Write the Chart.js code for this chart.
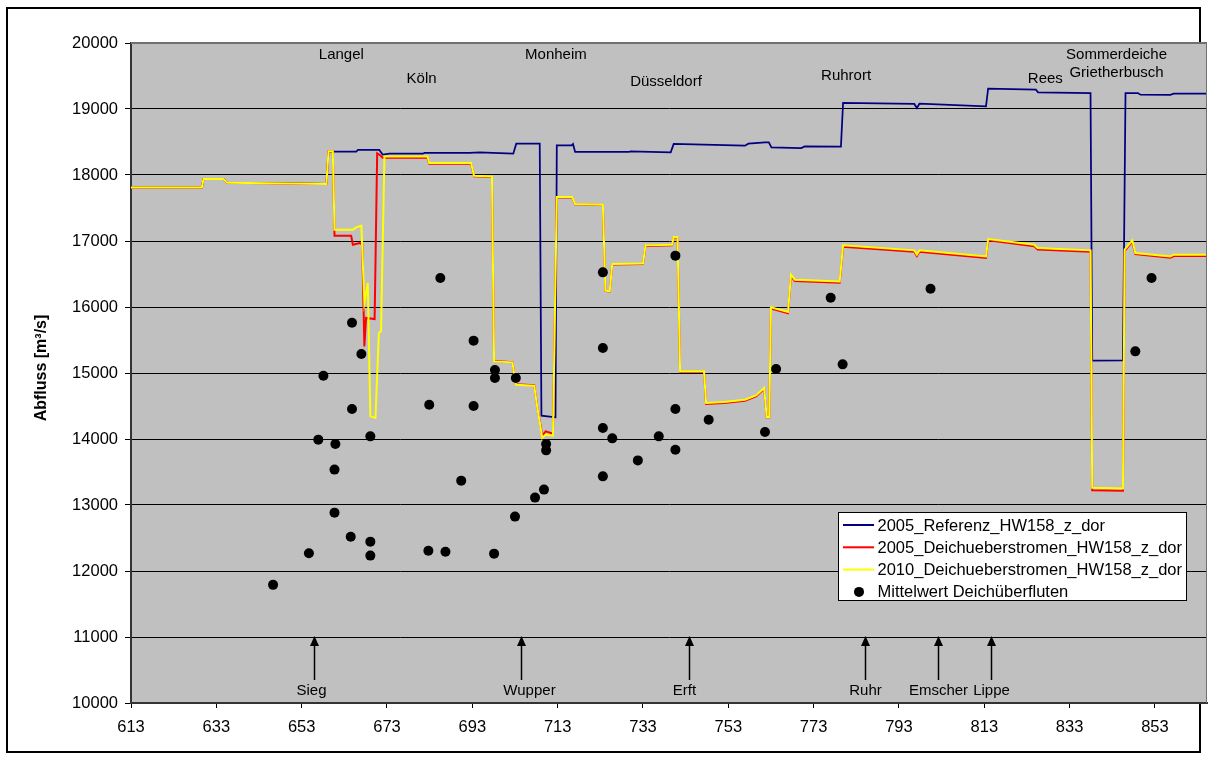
<!DOCTYPE html>
<html>
<head>
<meta charset="utf-8">
<script src="https://cdn.jsdelivr.net/npm/chart.js@4"></script>
<style>
  html, body { margin: 0; padding: 0; background: #ffffff; }
  canvas { display: block; }
</style>
</head>
<body>
<canvas id="chart" width="1212" height="760"></canvas>
<script>
// Rhine kilometre vs. discharge [m³/s]
const xTickValues = [613, 633, 653, 673, 693, 713, 733, 753, 773, 793, 813, 833, 853];

// 2005 reference run
const referenz = [[613,17810],[629.6,17810],[630,17940],[634.6,17940],[635.6,17883],[658.8,17864],[659.3,18353],[665.8,18353],[666.2,18379],[671.2,18379],[672.0,18308],[673.6,18323],[681.4,18323],[681.8,18334],[692.3,18334],[694.7,18343],[702.6,18323],[703.3,18474],[708.8,18474],[709.2,14354],[712.5,14328],[712.8,18449],[716.3,18449],[716.6,18470],[717.1,18349],[729.7,18349],[730.1,18358],[739.5,18343],[740.2,18470],[756.9,18444],[757.7,18474],[761.6,18494],[762.5,18494],[763.1,18418],[770.1,18409],[770.9,18434],[779.4,18429],[779.9,19091],[796.6,19076],[797.2,19015],[797.8,19080],[813.4,19040],[813.9,19308],[825.1,19292],[825.6,19252],[837.9,19242],[838.3,15187],[845.5,15190],[846.1,19242],[849.0,19242],[849.6,19217],[856.6,19215],[857.4,19232],[865.2,19232]];

// 2005 dike overtopping run
const ueberstromen2005 = [[613,17810],[629.6,17810],[630,17940],[634.6,17940],[635.6,17883],[658.8,17864],[659.3,18358],[660.3,18358],[660.7,17080],[664.6,17080],[665.0,16944],[666.6,16970],[667.2,16950],[667.7,15403],[668.1,15834],[670.1,15818],[670.7,18330],[671.4,18300],[672.0,18262],[682.5,18262],[682.9,18170],[692.7,18170],[693.4,17980],[697.6,17970],[698.1,15180],[702.4,15165],[703.2,14830],[707.5,14815],[708.2,14500],[709.4,14050],[710.2,14116],[711.9,14080],[712.8,17660],[716.4,17660],[717.1,17555],[723.6,17545],[724.2,16245],[725.2,16235],[725.8,16645],[733.0,16650],[733.6,16925],[739.8,16935],[740.2,17045],[741.1,17045],[741.7,15020],[747.3,15020],[747.8,14530],[752.0,14545],[756.9,14580],[759.5,14645],[761.4,14760],[762.0,14330],[762.6,14330],[763.0,15975],[767.0,15905],[767.7,16470],[768.6,16395],[779.1,16368],[779.9,16912],[796.6,16836],[797.2,16772],[797.8,16836],[813.4,16745],[813.9,17010],[824.7,16922],[825.5,16872],[837.9,16836],[838.3,13225],[845.5,13215],[845.9,16850],[847.7,16990],[848.4,16800],[856.6,16745],[857.4,16772],[865.2,16772]];

// 2010 dike overtopping run
const ueberstromen2010 = [[613,17810],[629.6,17810],[630,17940],[634.6,17940],[635.6,17883],[658.8,17864],[659.3,18358],[660.3,18358],[660.7,17172],[665.0,17172],[665.8,17206],[667.0,17232],[667.7,16061],[668.5,16364],[669.1,14343],[670.3,14318],[671.1,15606],[671.6,15631],[672.4,18282],[682.5,18282],[682.9,18182],[692.7,18182],[693.4,17990],[697.6,17979],[698.1,15176],[702.4,15161],[703.2,14823],[707.5,14808],[708.2,14495],[709.4,14016],[710.2,14066],[711.9,14050],[712.8,17667],[716.4,17667],[717.1,17561],[723.6,17550],[724.2,16247],[725.2,16237],[725.8,16652],[733.0,16660],[733.6,16934],[739.8,16944],[740.2,17055],[741.1,17055],[741.7,15025],[747.3,15025],[747.8,14546],[752.0,14560],[756.9,14596],[759.5,14660],[761.4,14773],[762.0,14334],[762.6,14334],[763.0,15994],[767.0,15925],[767.7,16490],[768.6,16414],[779.1,16388],[779.9,16934],[796.6,16858],[797.2,16793],[797.8,16858],[813.4,16767],[813.9,17030],[824.7,16944],[825.5,16894],[837.9,16858],[838.3,13260],[845.5,13250],[845.9,16868],[847.7,17010],[848.4,16818],[856.6,16767],[857.4,16793],[865.2,16793]];

// mean discharge at dike overflow sites
const mittelwert = [[646.3,11790],[654.7,12270],[656.9,13990],[658.1,14959],[660.7,13536],[660.7,12884],[660.9,13925],[664.5,12520],[664.8,15762],[664.8,14455],[667.0,15288],[669.1,14040],[669.1,12445],[669.1,12233],[682.7,12308],[682.9,14520],[685.5,16440],[686.7,12293],[690.4,13369],[693.3,15490],[693.3,14500],[698.1,12263],[698.3,15046],[698.3,14925],[703.0,12824],[703.2,14925],[707.7,13112],[709.8,13233],[710.3,13925],[710.3,13828],[723.6,16525],[723.6,15379],[723.6,14167],[723.6,13434],[725.8,14010],[731.8,13676],[736.7,14040],[740.6,16778],[740.6,14455],[740.6,13838],[748.4,14293],[761.6,14106],[764.2,15061],[777.0,16141],[779.8,15131],[800.4,16277],[848.4,15328],[852.2,16440]];

// towns along the river
const placeNames = ['Langel', 'Köln', 'Monheim', 'Düsseldorf', 'Ruhrort', 'Rees', 'Sommerdeiche', 'Grietherbusch'];
const placeKm    = [662.3, 681.1, 712.6, 738.4, 780.6, 827.3, 844.0, 844.0];
const placeQ     = [19823, 19455, 19823, 19418, 19505, 19455, 19823, 19550];

// tributary mouths
const riverNames = ['Sieg', 'Wupper', 'Erft', 'Ruhr', 'Emscher', 'Lippe'];
const riverKm    = [656.0, 704.4, 743.7, 785.0, 802.1, 814.5];
// horizontal nudge of each tributary caption relative to its arrow (px)
const riverLabelShift = [-3, 8, -5, 0, 0, 0];

const FONT = '"Liberation Sans", Arial, sans-serif';
Chart.defaults.font.family = FONT;
Chart.defaults.color = '#000';

const toPoints = arr => arr.map(([x, y]) => ({ x, y }));

const legendItems = [
  { text: '2005_Referenz_HW158_z_dor', color: '#000080', kind: 'line' },
  { text: '2005_Deichueberstromen_HW158_z_dor', color: '#FF0000', kind: 'line' },
  { text: '2010_Deichueberstromen_HW158_z_dor', color: '#FFFF00', kind: 'line' },
  { text: 'Mittelwert Deichüberfluten', color: '#000000', kind: 'dot' }
];

const decor = {
  id: 'decor',
  beforeDraw(chart) {
    const { ctx, chartArea: a } = chart;
    ctx.save();
    ctx.fillStyle = '#ffffff';
    ctx.fillRect(0, 0, chart.width, chart.height);
    // outer frame
    ctx.strokeStyle = '#000';
    ctx.lineWidth = 2;
    ctx.strokeRect(7, 8, 1193, 744);
    // plot area
    ctx.fillStyle = '#C0C0C0';
    ctx.fillRect(a.left, a.top, a.right - a.left, a.bottom - a.top);
    ctx.restore();
  },
  afterDraw(chart) {
    const { ctx, chartArea: a, scales } = chart;
    const xs = scales.x, ys = scales.y;
    ctx.save();

    // plot border (top and right)
    ctx.strokeStyle = '#707070';
    ctx.lineWidth = 2;
    ctx.beginPath();
    ctx.moveTo(a.left, a.top);
    ctx.lineTo(a.right, a.top);
    ctx.stroke();
    ctx.lineWidth = 1;
    ctx.beginPath();
    ctx.moveTo(a.right - 0.5, a.top);
    ctx.lineTo(a.right - 0.5, a.bottom);
    ctx.stroke();

    // town labels
    ctx.fillStyle = '#000';
    ctx.font = '15px ' + FONT;
    ctx.textAlign = 'center';
    ctx.textBaseline = 'middle';
    placeNames.forEach((n, i) => {
      ctx.fillText(n, xs.getPixelForValue(placeKm[i]), ys.getPixelForValue(placeQ[i]));
    });

    // tributary arrows
    const tipY = ys.getPixelForValue(11000) - 1;
    const baseY = a.bottom - 23;
    const labelY = a.bottom - 12;
    riverNames.forEach((n, i) => {
      const x = Math.round(xs.getPixelForValue(riverKm[i])) + 0.5;
      ctx.strokeStyle = '#000';
      ctx.lineWidth = 1.5;
      ctx.beginPath();
      ctx.moveTo(x, baseY);
      ctx.lineTo(x, tipY + 8);
      ctx.stroke();
      ctx.beginPath();
      ctx.moveTo(x, tipY);
      ctx.lineTo(x - 4.5, tipY + 10);
      ctx.lineTo(x + 4.5, tipY + 10);
      ctx.closePath();
      ctx.fill();
      ctx.fillText(n, x + riverLabelShift[i], labelY);
    });

    // y axis title
    ctx.save();
    ctx.translate(42, 368);
    ctx.rotate(-Math.PI / 2);
    ctx.font = 'bold 16px ' + FONT;
    ctx.fillText('Abfluss [m³/s]', 0, 0);
    ctx.restore();

    // legend
    const lx = 838.5, ly = 512.5, lw = 348, lh = 88;
    ctx.fillStyle = '#fff';
    ctx.fillRect(lx, ly, lw, lh);
    ctx.strokeStyle = '#000';
    ctx.lineWidth = 1;
    ctx.strokeRect(lx, ly, lw, lh);
    ctx.font = '16.5px ' + FONT;
    ctx.textAlign = 'left';
    ctx.textBaseline = 'middle';
    legendItems.forEach((it, i) => {
      const y = 525 + i * 22.3;
      if (it.kind === 'line') {
        ctx.strokeStyle = it.color;
        ctx.lineWidth = 2;
        ctx.beginPath();
        ctx.moveTo(843, y);
        ctx.lineTo(874, y);
        ctx.stroke();
      } else {
        ctx.fillStyle = it.color;
        ctx.beginPath();
        ctx.arc(859, y, 5, 0, Math.PI * 2);
        ctx.fill();
      }
      ctx.fillStyle = '#000';
      ctx.fillText(it.text, 877.5, y + 1);
    });
    ctx.restore();
  }
};

new Chart(document.getElementById('chart'), {
  type: 'line',
  data: {
    datasets: [
      {
        label: 'Mittelwert Deichüberfluten',
        data: toPoints(mittelwert),
        showLine: false,
        pointRadius: 5,
        pointHoverRadius: 5,
        pointBackgroundColor: '#000',
        pointBorderWidth: 0,
        order: 0
      },
      {
        label: '2010_Deichueberstromen_HW158_z_dor',
        data: toPoints(ueberstromen2010),
        borderColor: '#FFFF00',
        borderWidth: 2,
        pointRadius: 0,
        tension: 0,
        order: 1
      },
      {
        label: '2005_Deichueberstromen_HW158_z_dor',
        data: toPoints(ueberstromen2005),
        borderColor: '#FF0000',
        borderWidth: 2,
        pointRadius: 0,
        tension: 0,
        order: 2
      },
      {
        label: '2005_Referenz_HW158_z_dor',
        data: toPoints(referenz),
        borderColor: '#000080',
        borderWidth: 1.75,
        pointRadius: 0,
        tension: 0,
        order: 3
      }
    ]
  },
  options: {
    responsive: false,
    animation: false,
    devicePixelRatio: 1,
    layout: { padding: { left: 0, top: 43, right: 2, bottom: 0 } },
    plugins: { legend: { display: false }, tooltip: { enabled: false } },
    events: [],
    scales: {
      x: {
        type: 'linear',
        min: 613,
        max: 865.2,
        afterBuildTicks: s => { s.ticks = xTickValues.map(v => ({ value: v })); },
        afterFit: s => { s.height = 57; },
        ticks: {
          autoSkip: false,
          maxRotation: 0,
          padding: 10,
          font: { size: 16.5 },
          color: '#000',
          callback: v => String(v)
        },
        grid: { drawOnChartArea: false, drawTicks: true, tickLength: 5, color: '#000', lineWidth: 1 },
        border: { color: '#333', width: 2 }
      },
      y: {
        min: 10000,
        max: 20000,
        afterFit: s => { s.width = 131; },
        ticks: { stepSize: 1000, padding: 7, font: { size: 16.5 }, color: '#000', callback: v => String(v) },
        grid: { color: '#000', lineWidth: 1, tickLength: 6, drawTicks: true },
        border: { color: '#333', width: 2 }
      }
    }
  },
  plugins: [decor]
});
</script>
</body>
</html>
